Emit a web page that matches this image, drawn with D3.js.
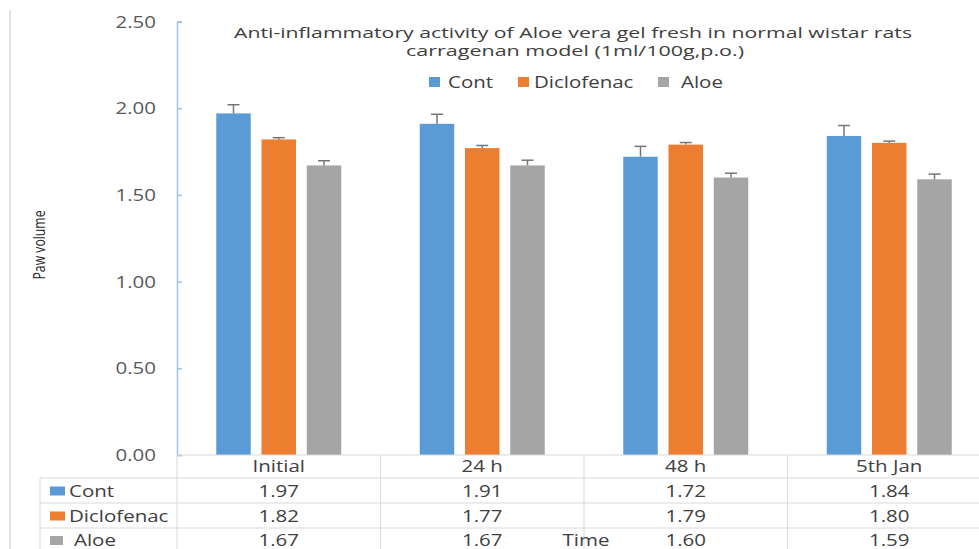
<!DOCTYPE html>
<html>
<head>
<meta charset="utf-8">
<script src="https://cdn.jsdelivr.net/npm/d3@7"></script>
<style>
  body { margin: 0; background: #fff; }
  text { font-family: "Open Sans", "Noto Sans", sans-serif; font-weight: 500; }
</style>
</head>
<body>
<script>
const categories = ["Initial", "24 h", "48 h", "5th Jan"]
const seriesNames = ["Cont", "Diclofenac", "Aloe"]
const contValues = [1.97, 1.91, 1.72, 1.84]
const diclofenacValues = [1.82, 1.77, 1.79, 1.80]
const aloeValues = [1.67, 1.67, 1.60, 1.59]
const contErrors = [0.05, 0.055, 0.06, 0.06]
const diclofenacErrors = [0.01, 0.015, 0.012, 0.01]
const aloeErrors = [0.027, 0.03, 0.025, 0.03]
const yTicks = [0, 0.5, 1, 1.5, 2, 2.5]
const colors = ["#5b9bd5", "#ed7d31", "#a5a5a5"]

const allValues = [contValues, diclofenacValues, aloeValues]
const allErrors = [contErrors, diclofenacErrors, aloeErrors]

const W = 979, H = 549
const SX = 1.28   // the picture is stretched sideways
const textColor = "#404040"

const svg = d3.select("body")
              .append("svg")
              .attr("width", W)
              .attr("height", H)

// puts a text at x,y and widens it
function put(sel, x, y) {
  return sel.attr("x", 0).attr("y", 0)
            .attr("transform", `translate(${x},${y}) scale(${SX},1)`)
}

// left frame line
svg.append("line")
   .attr("x1", 10).attr("x2", 10)
   .attr("y1", 10).attr("y2", H)
   .attr("stroke", "#d9d9d9").attr("stroke-width", 1.5)

const yscale = d3.scaleLinear()
                 .domain([0, 2.5])
                 .range([455, 21.5])

const x0 = d3.scaleBand()
             .domain(categories)
             .range([177, 991])

const innerW = 125
const x1 = d3.scaleBand()
             .domain(seriesNames)
             .range([0, innerW])
             .paddingInner(0.238)

// y axis
const yAxis = svg.append("g")
                 .attr("transform", "translate(177,0)")
                 .call(d3.axisRight(yscale).tickValues(yTicks).tickSize(5).tickFormat(() => ""))
yAxis.select(".domain").attr("stroke", "#9dc3e6").attr("stroke-width", 1.5)
yAxis.selectAll(".tick line").attr("stroke", "#9dc3e6").attr("stroke-width", 1.5)

svg.selectAll("text.ytick")
   .data(yTicks)
   .enter()
   .append("text")
   .attr("class", "ytick")
   .attr("text-anchor", "end")
   .attr("font-size", "16px")
   .attr("fill", "#595959")
   .text(d => d.toFixed(2))
   .each(function(d) { put(d3.select(this), 156, yscale(d) + 6) })

// bars
const rows = []
categories.forEach((c, i) => {
  seriesNames.forEach((s, j) => {
    rows.push({cat: c, series: s, value: allValues[j][i], err: allErrors[j][i], color: colors[j]})
  })
})

const groupe = svg.append("g")

groupe.selectAll("rect")
      .data(rows)
      .enter()
      .append("rect")
      .attr("x", d => x0(d.cat) + x0.bandwidth() / 2 - innerW / 2 + x1(d.series))
      .attr("y", d => yscale(d.value))
      .attr("width", x1.bandwidth())
      .attr("height", d => yscale(0) - yscale(d.value))
      .attr("fill", d => d.color)

// error bars
const errG = groupe.selectAll("g.err")
                   .data(rows)
                   .enter()
                   .append("g")
                   .attr("class", "err")
                   .attr("stroke", "#767676")
                   .attr("stroke-width", 1.5)
const cx = d => x0(d.cat) + x0.bandwidth() / 2 - innerW / 2 + x1(d.series) + x1.bandwidth() / 2
errG.append("line")
    .attr("x1", cx).attr("x2", cx)
    .attr("y1", d => yscale(d.value)).attr("y2", d => yscale(d.value + d.err))
errG.append("line")
    .attr("x1", d => cx(d) - 6).attr("x2", d => cx(d) + 6)
    .attr("y1", d => yscale(d.value + d.err)).attr("y2", d => yscale(d.value + d.err))

// title
svg.append("text")
   .attr("x", 573).attr("y", 38)
   .attr("text-anchor", "middle")
   .attr("font-size", "15px")
   .attr("fill", textColor)
   .attr("textLength", 678).attr("lengthAdjust", "spacingAndGlyphs")
   .text("Anti-inflammatory activity of Aloe vera gel fresh in normal wistar rats")
svg.append("text")
   .attr("x", 575).attr("y", 56)
   .attr("text-anchor", "middle")
   .attr("font-size", "15px")
   .attr("fill", textColor)
   .attr("textLength", 338).attr("lengthAdjust", "spacingAndGlyphs")
   .text("carragenan model (1ml/100g,p.o.)")

// top legend
const legendX = [429, 518, 658]
const legendTextX = [448, 534, 681]
seriesNames.forEach((s, i) => {
  svg.append("rect")
     .attr("x", legendX[i]).attr("y", 77)
     .attr("width", 11).attr("height", 10)
     .attr("fill", colors[i])
  svg.append("text")
     .attr("font-size", "16px")
     .attr("fill", textColor)
     .text(s)
     .call(put, legendTextX[i], 88)
})

// data table
const rowTops = [455, 478, 503, 528]
const gridColor = "#d9d9d9"
svg.append("line")
   .attr("x1", 177).attr("x2", W).attr("y1", 455).attr("y2", 455)
   .attr("stroke", gridColor)
rowTops.slice(1).forEach(y => {
  svg.append("line")
     .attr("x1", 40).attr("x2", W).attr("y1", y).attr("y2", y)
     .attr("stroke", gridColor)
})
svg.append("line")
   .attr("x1", 40).attr("x2", 40).attr("y1", 478).attr("y2", H)
   .attr("stroke", gridColor)
categories.forEach(c => {
  svg.append("line")
     .attr("x1", x0(c)).attr("x2", x0(c)).attr("y1", 455).attr("y2", H)
     .attr("stroke", gridColor)
})

svg.selectAll("text.cat")
   .data(categories)
   .enter()
   .append("text")
   .attr("class", "cat")
   .attr("text-anchor", "middle")
   .attr("font-size", "16px")
   .attr("fill", textColor)
   .text(d => d)
   .each(function(d) { put(d3.select(this), x0(d) + x0.bandwidth() / 2, 472) })

const keyX = [50, 50, 50]
const keyW = [15, 15, 13]
const labelX = [69, 69, 74]
seriesNames.forEach((s, j) => {
  const yMid = (rowTops[j + 1] + (rowTops[j + 2] || H + 3)) / 2
  svg.append("rect")
     .attr("x", keyX[j]).attr("y", yMid - 4)
     .attr("width", keyW[j]).attr("height", 9)
     .attr("fill", colors[j])
  svg.append("text")
     .attr("font-size", "16px")
     .attr("fill", textColor)
     .text(s)
     .call(put, labelX[j], yMid + 6)
  svg.selectAll("text.val" + j)
     .data(allValues[j])
     .enter()
     .append("text")
     .attr("text-anchor", "middle")
     .attr("font-size", "16px")
     .attr("fill", textColor)
     .text(d => d.toFixed(2))
     .each(function(d, i) { put(d3.select(this), x0(categories[i]) + x0.bandwidth() / 2, yMid + 6) })
})

// axis titles
svg.append("text")
   .attr("text-anchor", "middle")
   .attr("font-size", "16px")
   .attr("fill", textColor)
   .text("Time")
   .call(put, 586, 546)

svg.append("text")
   .attr("transform", "translate(45,245) rotate(-90) scale(0.72,1)")
   .attr("text-anchor", "middle")
   .attr("font-size", "17px")
   .attr("font-weight", 600)
   .attr("fill", "#262626")
   .text("Paw volume")
</script>
</body>
</html>
